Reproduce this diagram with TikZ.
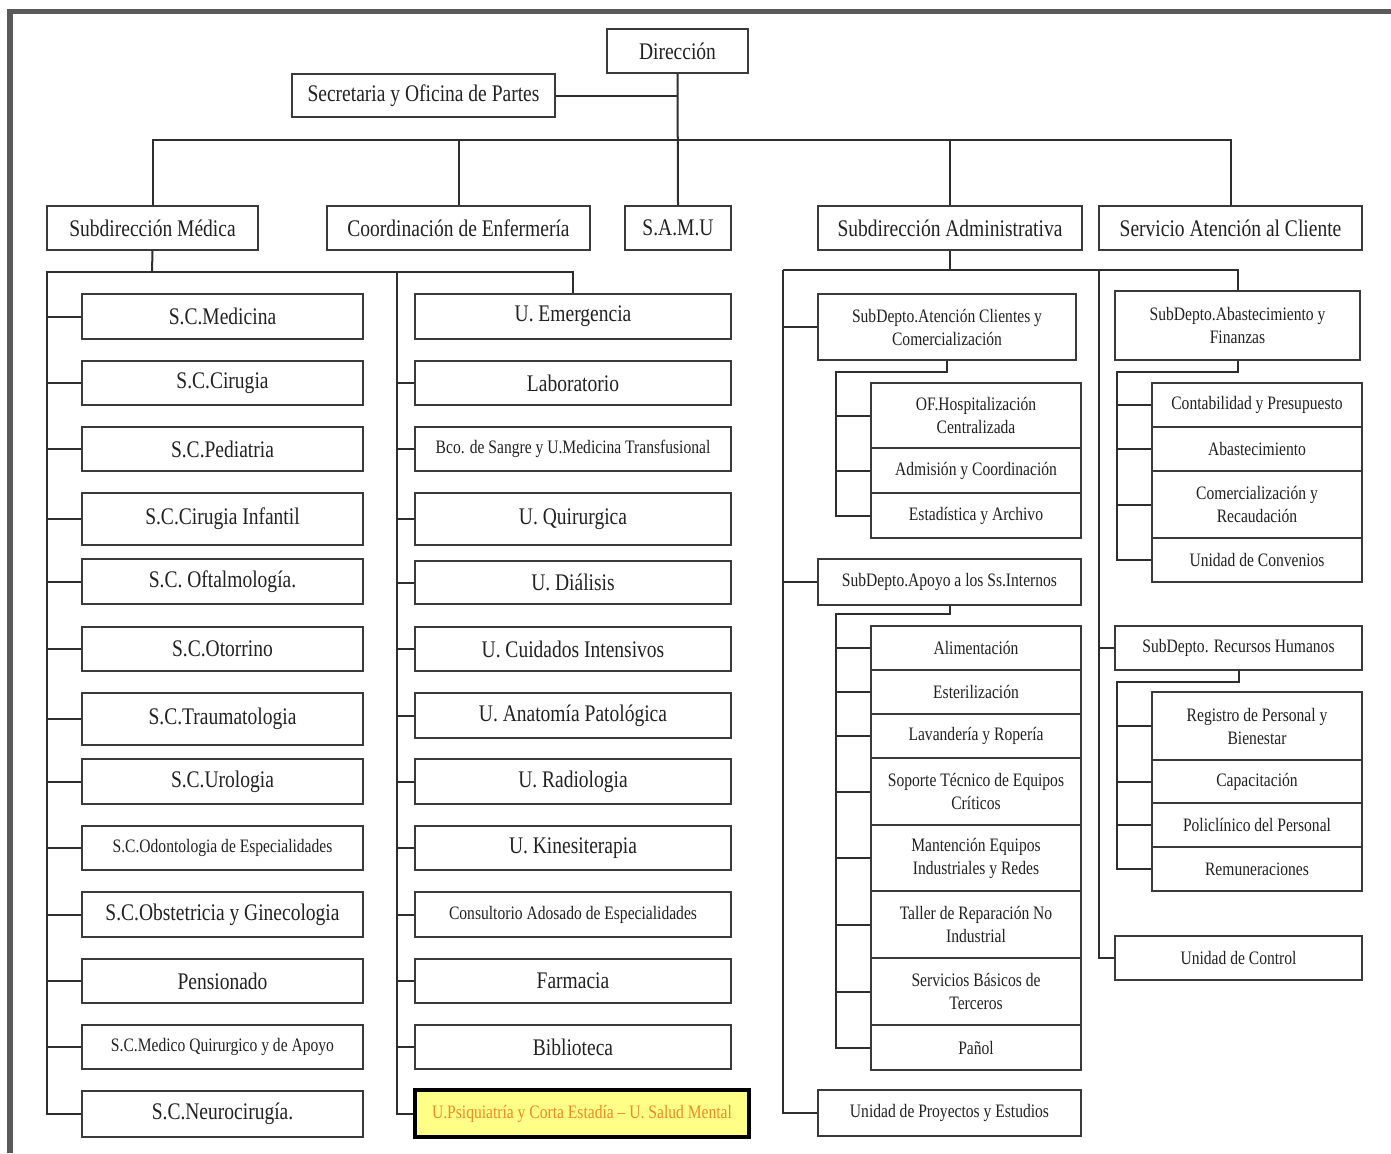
\documentclass[tikz,border=0pt]{standalone}
\usepackage{fontspec}
\setmainfont{Liberation Serif}[FakeStretch=0.82]
\definecolor{boxc}{HTML}{3A3A3A}
\definecolor{linec}{HTML}{2E2E2E}
\definecolor{txtc}{HTML}{222222}
\definecolor{framec}{HTML}{5A5A5A}
\definecolor{yelc}{HTML}{FFFF88}
\definecolor{orc}{HTML}{EE8A22}
\newcommand\bigf{\fontsize{11.9}{13}\selectfont}
\newcommand\smf{\fontsize{9.5}{11.5}\selectfont}
\tikzset{
  box/.style={draw=boxc, line width=1.1pt, fill=white, inner sep=1pt, align=center, font=\bigf, text=txtc},
  sm/.style={font=\smf},
  hilite/.style={fill=yelc, draw=black, line width=1.6pt, text=orc},
  conn/.style={draw=linec, line width=1pt},
}
\newcommand\nb[7][]{\node[box,minimum width={(#4-#2)*0.5pt},minimum height={(#5-#3)*0.5pt},#1] (#6) at ({(#2+#4)/2},{(#3+#5)/2}) {#7};}
\begin{document}
\begin{tikzpicture}[x=0.5pt,y=-0.5pt]
\useasboundingbox (0,0) rectangle (1391,1153);
\fill[white] (0,0) rectangle (1391,1153);
\draw[framec, line width=2.6pt] (10,1153) -- (10,11.5) -- (1391,11.5);

% top levels
\nb{607}{29}{748}{73}{dir}{Dirección}
\nb{292}{74}{555}{117}{sec}{Secretaria y Oficina de Partes}
\nb{47}{206}{258}{250}{smed}{Subdirección Médica}
\nb{327}{206}{590}{250}{enf}{Coordinación de Enfermería}
\nb{625}{206}{731}{250}{samu}{S.A.M.U}
\nb{818}{206}{1082}{250}{sadm}{Subdirección Administrativa}
\nb{1099}{206}{1362}{250}{sac}{Servicio Atención al Cliente}

\coordinate (bus) at (678,140);
\draw[conn] (dir.south) -- (samu.north);
\draw[conn] (sec.east) -- (sec.east -| dir.south);
\draw[conn] (smed.north) |- (bus) -| (sac.north);
\draw[conn] (enf.north) -- (enf.north |- bus);
\draw[conn] (sadm.north) -- (sadm.north |- bus);

% Subdireccion Medica - left column
\nb{82}{294}{363}{339}{l1}{S.C.Medicina}
\nb{82}{361}{363}{405}{l2}{S.C.Cirugia}
\nb{82}{427}{363}{471}{l3}{S.C.Pediatria}
\nb{82}{493}{363}{545}{l4}{S.C.Cirugia Infantil}
\nb{82}{559}{363}{604}{l5}{S.C. Oftalmología.}
\nb{82}{627}{363}{671}{l6}{S.C.Otorrino}
\nb{82}{693}{363}{745}{l7}{S.C.Traumatologia}
\nb{82}{759}{363}{804}{l8}{S.C.Urologia}
\nb[sm]{82}{826}{363}{870}{l9}{S.C.Odontologia de Especialidades}
\nb{82}{892}{363}{937}{l10}{S.C.Obstetricia y Ginecologia}
\nb{82}{959}{363}{1003}{l11}{Pensionado}
\nb[sm]{82}{1025}{363}{1069}{l12}{S.C.Medico Quirurgico y de Apoyo}
\nb{82}{1091}{363}{1137}{l13}{S.C.Neurocirugía.}

% middle column
\nb{415}{294}{731}{339}{m1}{U. Emergencia}
\nb{415}{361}{731}{405}{m2}{Laboratorio}
\nb[sm]{415}{427}{731}{471}{m3}{Bco. de Sangre y U.Medicina Transfusional}
\nb{415}{493}{731}{545}{m4}{U. Quirurgica}
\nb{415}{561}{731}{604}{m5}{U. Diálisis}
\nb{415}{627}{731}{671}{m6}{U. Cuidados Intensivos}
\nb{415}{693}{731}{738}{m7}{U. Anatomía Patológica}
\nb{415}{759}{731}{804}{m8}{U. Radiologia}
\nb{415}{826}{731}{870}{m9}{U. Kinesiterapia}
\nb[sm]{415}{892}{731}{937}{m10}{Consultorio Adosado de Especialidades}
\nb{415}{959}{731}{1003}{m11}{Farmacia}
\nb{415}{1025}{731}{1069}{m12}{Biblioteca}
\nb[sm,hilite]{415}{1090}{749}{1137}{m13}{U.Psiquiatría y Corta Estadía – U. Salud Mental}

\coordinate (mbus) at (152,272);
\coordinate (mL) at (47,272);
\coordinate (mM) at (397,272);
\draw[conn] (smed.south) -- (mbus);
\draw[conn] (mbus) -| (m1.north);
\draw[conn] (mbus) -- (mL) |- (l13.west);
\draw[conn] (mM) |- (m13.west);
\foreach \i in {1,...,12} { \draw[conn] (l\i.west) -- (l\i.west -| mL); }
\foreach \i in {2,...,12} { \draw[conn] (m\i.west) -- (m\i.west -| mM); }

% Subdireccion Administrativa
\nb[sm]{818}{294}{1076}{360}{atc}{SubDepto.Atención Clientes y\\Comercialización}
\nb[sm]{871}{383}{1081}{448}{ofh}{OF.Hospitalización\\Centralizada}
\nb[sm]{871}{448}{1081}{493}{adm}{Admisión y Coordinación}
\nb[sm]{871}{493}{1081}{538}{est}{Estadística y Archivo}
\nb[sm]{818}{559}{1081}{605}{apo}{SubDepto.Apoyo a los Ss.Internos}
\nb[sm]{871}{626}{1081}{670}{s1}{Alimentación}
\nb[sm]{871}{670}{1081}{714}{s2}{Esterilización}
\nb[sm]{871}{714}{1081}{758}{s3}{Lavandería y Ropería}
\nb[sm]{871}{758}{1081}{825}{s4}{Soporte Técnico de Equipos\\Críticos}
\nb[sm]{871}{825}{1081}{891}{s5}{Mantención Equipos\\Industriales y Redes}
\nb[sm]{871}{891}{1081}{958}{s6}{Taller de Reparación No\\Industrial}
\nb[sm]{871}{958}{1081}{1025}{s7}{Servicios Básicos de\\Terceros}
\nb[sm]{871}{1025}{1081}{1070}{s8}{Pañol}
\nb[sm]{818}{1090}{1081}{1136}{proy}{Unidad de Proyectos y Estudios}

\nb[sm]{1115}{291}{1360}{360}{abf}{SubDepto.Abastecimiento y\\Finanzas}
\nb[sm]{1152}{383}{1362}{427}{f1}{Contabilidad y Presupuesto}
\nb[sm]{1152}{427}{1362}{471}{f2}{Abastecimiento}
\nb[sm]{1152}{471}{1362}{538}{f3}{Comercialización y\\Recaudación}
\nb[sm]{1152}{538}{1362}{582}{f4}{Unidad de Convenios}
\nb[sm]{1115}{626}{1362}{670}{rrhh}{SubDepto. Recursos Humanos}
\nb[sm]{1152}{692}{1362}{760}{r1}{Registro de Personal y\\Bienestar}
\nb[sm]{1152}{760}{1362}{803}{r2}{Capacitación}
\nb[sm]{1152}{803}{1362}{847}{r3}{Policlínico del Personal}
\nb[sm]{1152}{847}{1362}{891}{r4}{Remuneraciones}
\nb[sm]{1115}{936}{1362}{980}{ctrl}{Unidad de Control}

\coordinate (aL) at (783,270);
\coordinate (aM) at (1099,270);
\draw[conn] (sadm.south) -- (sadm.south |- aL);
\draw[conn] (aL) -| (abf.north);
\draw[conn] (aL) |- (proy.west);
\draw[conn] (atc.west) -- (atc.west -| aL);
\draw[conn] (apo.west) -- (apo.west -| aL);
\draw[conn] (aM) |- (ctrl.west);
\draw[conn] (rrhh.west) -- (rrhh.west -| aM);

\coordinate (hc) at (836,372);
\draw[conn] (atc.south) |- (hc) |- (est.west);
\draw[conn] (ofh.west) -- (ofh.west -| hc);
\draw[conn] (adm.west) -- (adm.west -| hc);

\coordinate (hs) at (836,614);
\draw[conn] (apo.south) |- (hs) |- (s8.west);
\foreach \i in {1,...,7} { \draw[conn] (s\i.west) -- (s\i.west -| hs); }

\coordinate (hf) at (1117,372);
\draw[conn] (abf.south) |- (hf) |- (f4.west);
\foreach \i in {1,2,3} { \draw[conn] (f\i.west) -- (f\i.west -| hf); }

\coordinate (hr) at (1117,682);
\draw[conn] (rrhh.south) |- (hr) |- (r4.west);
\foreach \i in {1,2,3} { \draw[conn] (r\i.west) -- (r\i.west -| hr); }
\end{tikzpicture}
\end{document}
